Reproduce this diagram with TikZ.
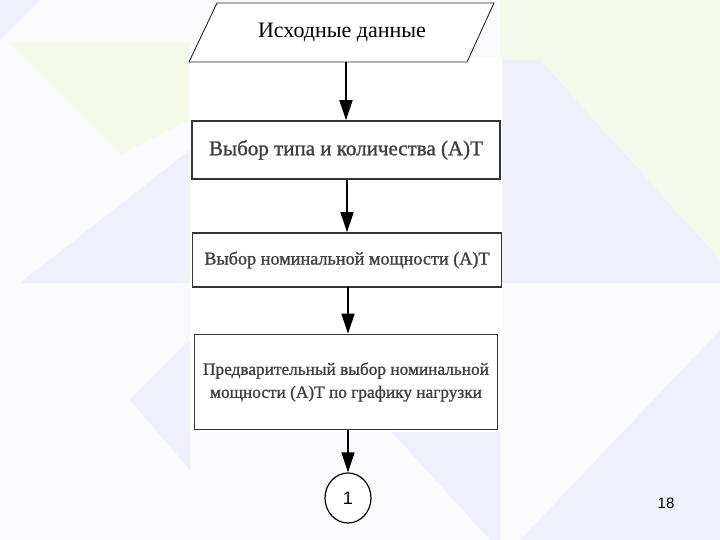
\documentclass[tikz,border=0pt]{standalone}
\usepackage{fontspec}
\setmainfont{Liberation Serif}
\newfontfamily\boxfont[FakeBold=1.2]{Liberation Serif}
\newfontfamily\arialf{Liberation Sans}
\usetikzlibrary{arrows.meta,shapes.geometric}
\definecolor{bgbase}{HTML}{FAFAFD}
\definecolor{bggreen}{HTML}{F5F9EB}
\definecolor{bglav}{HTML}{EFF0FA}
\definecolor{txtgray}{HTML}{404040}
\tikzset{
  stepbox/.style={draw=black!80, line width=1.6pt, fill=white, inner sep=2pt, align=center, text=txtgray},
  flowarrow/.style={draw=black, line width=1.5pt, -{Triangle[length=20pt,width=13pt]}},
  connector/.style={draw=black, line width=1.2pt, ellipse, fill=white, minimum width=46pt, minimum height=50pt, inner sep=0pt}
}
\begin{document}
\begin{tikzpicture}[x=1pt,y=-1pt]
\useasboundingbox (0,0) rectangle (720,540);
% background
\fill[bgbase] (0,0) rectangle (720,540);
\fill[bglav] (0,0) -- (40,0) -- (0,40) -- cycle;
\fill[bggreen] (10,43) -- (190,43) -- (190,120) -- (120,155) -- cycle;
\fill[bglav] (20,283) -- (190,150) -- (190,283) -- cycle;
\fill[bglav] (130,400) -- (190,340) -- (190,470) -- cycle;
\fill[bggreen] (500,0) -- (720,0) -- (720,260) -- (540,60) -- (500,60) -- cycle;
\fill[bglav] (500,60) -- (540,60) -- (720,260) -- (720,283) -- (500,283) -- cycle;
\fill[bglav] (390,430) -- (500,430) -- (500,540) -- (490,540) -- cycle;
\fill[bglav] (520,540) -- (720,330) -- (720,540) -- cycle;
% white panel
\fill[white] (190,58) rectangle (502,432);
% input parallelogram
\fill[white] (189,62) -- (217,3) -- (494,3) -- (467,62) -- cycle;
\draw[black!85, line width=0.9pt] (189,62) -- (217,3) -- (494,3) -- (467,62) -- cycle;
\node[minimum width=250pt, minimum height=59pt, inner sep=0pt, font=\fontsize{22}{26}\selectfont] (in) at (342,32.5) {Исходные данные};
% steps
\node[stepbox, minimum width=308pt, minimum height=58pt, font=\boxfont\fontsize{21}{25}\selectfont] (b1) at (346,150) {Выбор типа и количества (А)Т};
\node[stepbox, minimum width=309pt, minimum height=54pt, font=\boxfont\fontsize{18.2}{22}\selectfont] (b2) at (347,260) {Выбор номинальной мощности (А)Т};
\node[stepbox, minimum width=303pt, minimum height=95pt, font=\boxfont\fontsize{17.3}{23}\selectfont] (b3) at (346,382) {Предварительный выбор номинальной\\мощности (А)Т по графику нагрузки};
\coordinate (a3) at (348,287);
\node[connector, font=\arialf\fontsize{18}{20}\selectfont] (c1) at (348,498) {1};
\node[font=\arialf\fontsize{15}{18}\selectfont] (pg) at (666,503) {18};
% arrows
\draw[flowarrow] (in.south -| b1.north) -- (b1.north);
\draw[flowarrow] (b1.south -| b2.north) -- (b2.north);
\draw[flowarrow] (a3) -- (a3 |- b3.north);
\draw[flowarrow] (b3.south -| c1.north) -- (c1.north);
\end{tikzpicture}
\end{document}
